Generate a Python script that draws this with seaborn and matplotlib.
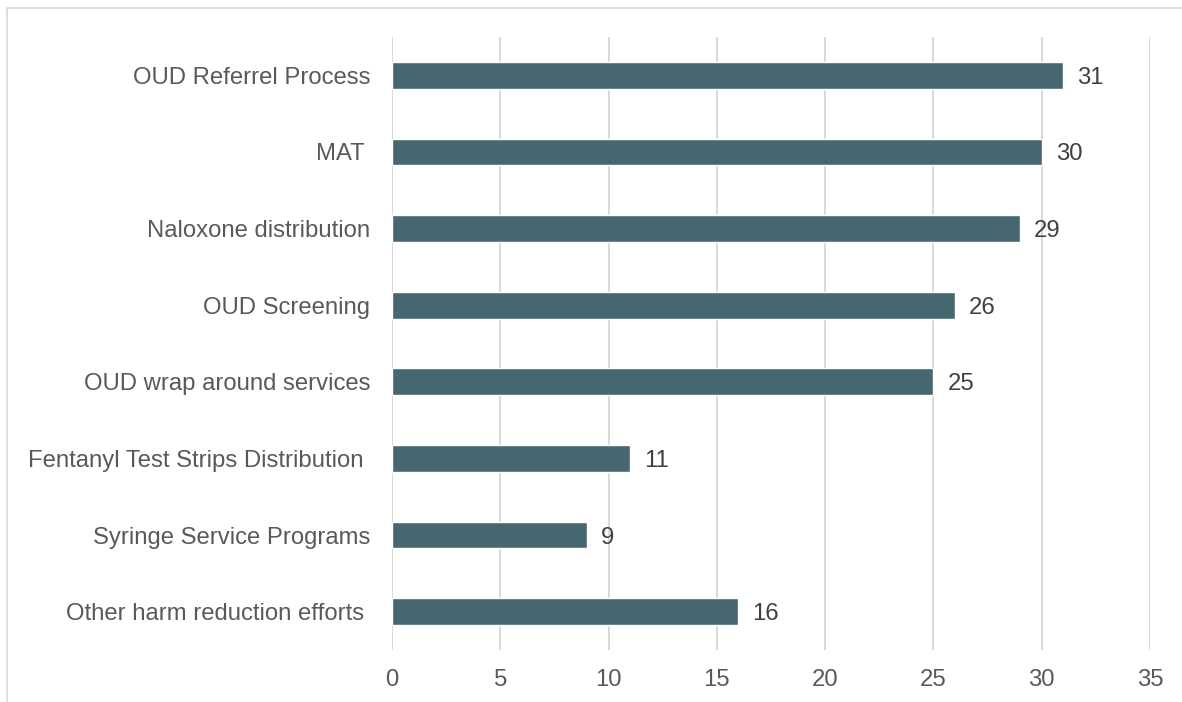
import matplotlib
matplotlib.use("Agg")
import matplotlib.pyplot as plt
from matplotlib.lines import Line2D
import seaborn as sns
import pandas as pd

categories = [
    "OUD Referrel Process",
    "MAT ",
    "Naloxone distribution",
    "OUD Screening",
    "OUD wrap around services",
    "Fentanyl Test Strips Distribution ",
    "Syringe Service Programs",
    "Other harm reduction efforts ",
]
counts = [31, 30, 29, 26, 25, 11, 9, 16]
x_ticks = [0, 5, 10, 15, 20, 25, 30, 35]

sns.set_theme(style="white")
plt.rcParams["font.family"] = ["Liberation Sans", "DejaVu Sans"]

df = pd.DataFrame({"category": categories, "count": counts})

fig = plt.figure(figsize=(11.82, 7.02), dpi=100)
ax = fig.add_axes([0.3316, 0.0741, 0.9729 - 0.3316, 0.9473 - 0.0741])

bar_color = "#476870"
text_color = "#595959"

sns.barplot(data=df, x="count", y="category", orient="h", color=bar_color,
            width=0.35, saturation=1, ax=ax, zorder=3)

ax.set_xlim(0, 35)
ax.set_ylim(7.5, -0.5)
ax.set_xticks(x_ticks)
ax.set_xlabel("")
ax.set_ylabel("")
ax.grid(axis="x", color="#d9d9d9", linewidth=1.4, zorder=0)
ax.grid(axis="y", visible=False)
for s in ax.spines.values():
    s.set_visible(False)
ax.tick_params(axis="both", length=0, labelsize=17.2, labelcolor=text_color)
ax.tick_params(axis="y", pad=15.5)
ax.tick_params(axis="x", pad=14)

for container in ax.containers:
    labels = ax.bar_label(container, labels=[str(v) for v in counts],
                          padding=10, fontsize=17.2, color="#404040")
    for t in labels:
        t.set_va("center_baseline")

# outer frame lines
fig.add_artist(Line2D([7 / 1182, 1.0], [1 - 8 / 702, 1 - 8 / 702],
                      color="#d9d9d9", linewidth=1.2))
fig.add_artist(Line2D([7 / 1182, 7 / 1182], [0.0, 1 - 8 / 702],
                      color="#d9d9d9", linewidth=1.2))

fig.savefig("out.png", dpi=100, facecolor="white")
